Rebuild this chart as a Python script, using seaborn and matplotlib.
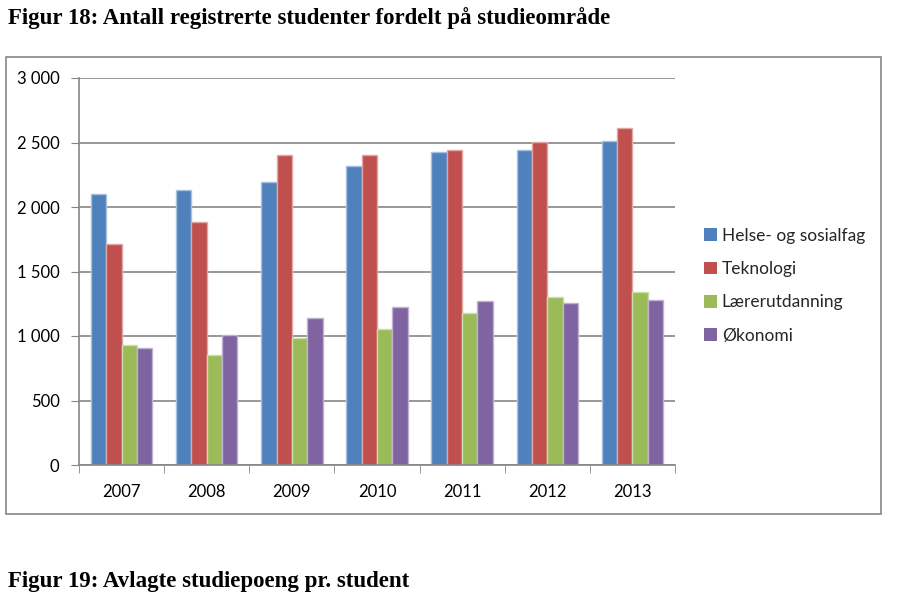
import matplotlib
matplotlib.use("Agg")
import matplotlib.pyplot as plt
import matplotlib.patches as mpatches
import seaborn as sns
import pandas as pd

years = ["2007", "2008", "2009", "2010", "2011", "2012", "2013"]
helse = [2100, 2130, 2195, 2320, 2430, 2445, 2510]
teknologi = [1710, 1880, 2405, 2405, 2445, 2505, 2610]
laerer = [930, 850, 985, 1055, 1180, 1305, 1340]
okonomi = [910, 1010, 1140, 1225, 1270, 1255, 1280]
series = ["Helse- og sosialfag", "Teknologi", "Lærerutdanning", "Økonomi"]
colors = ["#4F81BD", "#C0504D", "#9BBB59", "#8064A2"]
edges = ["#A7C0DE", "#DFA8A6", "#CDDDAC", "#BFB1D0"]
yticks = [0, 500, 1000, 1500, 2000, 2500, 3000]

rows = []
for name, vals in zip(series, [helse, teknologi, laerer, okonomi]):
    for y, v in zip(years, vals):
        rows.append({"year": y, "serie": name, "antall": v})
df = pd.DataFrame(rows)

sns.set_style("white")
plt.rcParams["font.family"] = ["Lato", "DejaVu Sans"]

fig = plt.figure(figsize=(9.03, 6.05), dpi=100)
ax = fig.add_axes([79 / 903, 1 - 465 / 605, 596 / 903, 387 / 605])

sns.barplot(data=df, x="year", y="antall", hue="serie", hue_order=series,
            palette=colors, saturation=1, width=0.72, ax=ax, legend=False)
for i, cont in enumerate(ax.containers):
    for bar in cont:
        bar.set_edgecolor(edges[i])
        bar.set_linewidth(1)

ax.set_xlim(-0.5, 6.5)
ax.set_ylim(0, 3000)
ax.set_yticks(yticks)
ax.set_yticklabels([f"{t:,}".replace(",", " ") for t in yticks])
ax.yaxis.grid(True, color="#868686", linewidth=1.2)
ax.set_axisbelow(True)
ax.set(xlabel="", ylabel="")
for s in ["top", "right"]:
    ax.spines[s].set_visible(False)
for s in ["left", "bottom"]:
    ax.spines[s].set_color("#868686")
    ax.spines[s].set_linewidth(1.2)
ax.tick_params(axis="y", left=True, length=6, color="#868686", labelsize=12, pad=8,
               labelcolor="black")
ax.tick_params(axis="x", which="major", length=0, labelsize=12, pad=14, labelcolor="black")
ax.set_xticks([i - 0.5 for i in range(8)], minor=True)
ax.tick_params(axis="x", which="minor", bottom=True, length=6, color="#868686")

handles = [mpatches.Patch(facecolor=c, edgecolor="none") for c in colors]
fig.legend(handles, series, loc="upper left", bbox_to_anchor=(688 / 903, 1 - 212 / 605),
           frameon=False, fontsize=12.5, handlelength=0.75, handleheight=0.75,
           handletextpad=0.3, labelspacing=1.0)

# ramme rundt diagrammet
fig.patches.append(mpatches.Rectangle((6 / 903, 1 - 514 / 605), 875 / 903, 457 / 605,
                                      transform=fig.transFigure, fill=False,
                                      edgecolor="#868686", linewidth=1.2))

fig.text(8 / 903, 1 - 18 / 605, "Figur 18: Antall registrerte studenter fordelt på studieområde",
         family="Liberation Serif", weight="bold", fontsize=16.5, va="center", color="black")
fig.text(8 / 903, 1 - 582 / 605, "Figur 19: Avlagte studiepoeng pr. student",
         family="Liberation Serif", weight="bold", fontsize=16.5, va="center", color="black")

plt.savefig("out.png", dpi=100)
